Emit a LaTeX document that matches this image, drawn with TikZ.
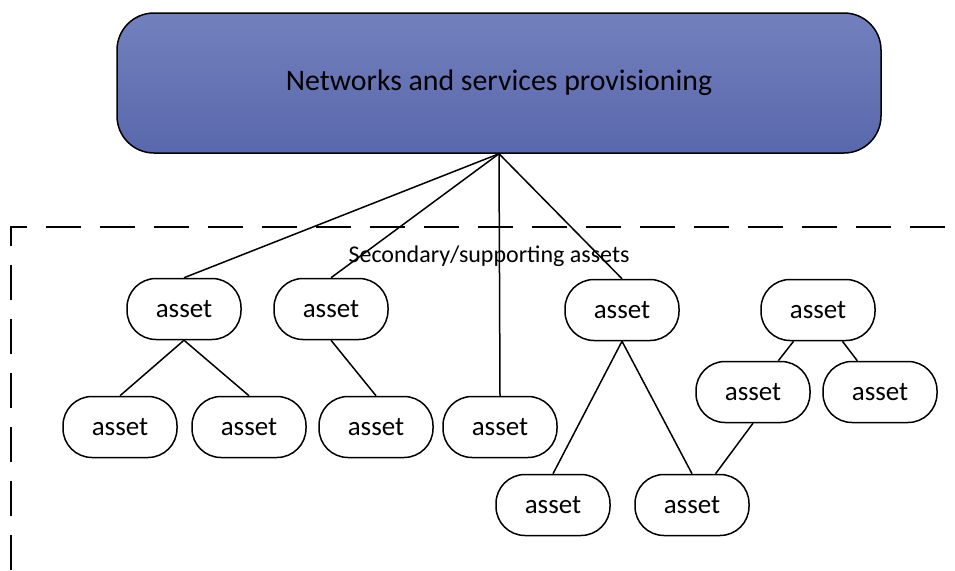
\documentclass[tikz,border=0pt]{standalone}
\usepackage{fontspec}
\setmainfont{Carlito}
\definecolor{topblue}{RGB}{115,128,190}
\definecolor{botblue}{RGB}{89,104,172}
\tikzset{
  asset/.style={draw,line width=1.5pt,rounded corners=29pt,minimum width=114pt,minimum height=61pt,font=\fontsize{27}{31}\selectfont},
  link/.style={line width=1.5pt}
}
\begin{document}
\begin{tikzpicture}[x=1pt,y=-1pt]
\useasboundingbox (0,0) rectangle (955,570);
\node[draw,line width=1.5pt,rounded corners=37pt,top color=topblue,bottom color=botblue,minimum width=764pt,minimum height=140pt,font=\fontsize{29.8}{34}\selectfont] (root) at (499,83) {Networks and services provisioning};
\draw[line width=1.5pt,dash pattern=on 35pt off 19pt] (11,570) -- (11,227) -- (975,227);
\node[font=\fontsize{24}{28}\selectfont] (sec) at (489,256) {Secondary/supporting assets};
% first level
\node[asset] (a1) at (184,309) {asset};
\node[asset] (a2) at (331,309) {asset};
\node[asset] (a3) at (622,310) {asset};
\node[asset] (a4) at (818,310) {asset};
% second level
\node[asset] (b1) at (120,427) {asset};
\node[asset] (b2) at (249,427) {asset};
\node[asset] (b3) at (376,427) {asset};
\node[asset] (b4) at (500,427) {asset};
\node[asset] (c1) at (753,392) {asset};
\node[asset] (c2) at (880,392) {asset};
% third level
\node[asset] (d1) at (553,505) {asset};
\node[asset] (d2) at (692,505) {asset};
\draw[link] (root.south) -- (a1.north);
\draw[link] (root.south) -- (a2.north);
\draw[link] (root.south) -- (b4.north);
\draw[link] (root.south) -- (a3.north);
\draw[link] (a1.south) -- (b1.north);
\draw[link] (a1.south) -- (b2.north);
\draw[link] (a2.south) -- (b3.north);
\draw[link] (a3.south) -- (d1.north);
\draw[link] (a3.south) -- (d2.north);
\draw[link] (a4.232) -- (c1.51);
\draw[link] (a4.308) -- (c2.126);
\draw[link] (c1.south) -- (d2.53);
\end{tikzpicture}
\end{document}
